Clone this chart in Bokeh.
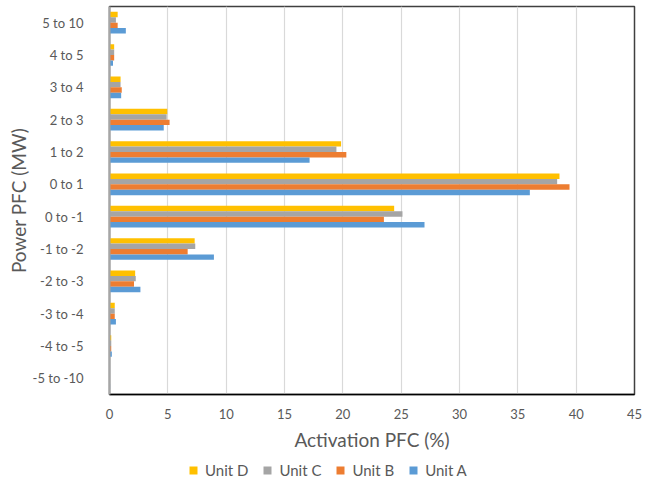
from bokeh.plotting import figure
from bokeh.models import (ColumnDataSource, FactorRange, Range1d, SingleIntervalTicker,
                          Legend, LegendItem)
from bokeh.layouts import column
from bokeh.transform import dodge
from bokeh.embed import file_html
from bokeh.resources import INLINE

# Power bands, listed from top to bottom as they appear on the chart
categories = ["5 to 10", "4 to 5", "3 to 4", "2 to 3", "1 to 2", "0 to 1",
              "0 to -1", "-1 to -2", "-2 to -3", "-3 to -4", "-4 to -5", "-5 to -10"]

# Activation share (%) per unit and band
unit_a = [1.4, 0.3, 1.0, 4.65, 17.15, 36.03, 27.0, 8.95, 2.65, 0.55, 0.2, 0.05]
unit_b = [0.7, 0.4, 1.05, 5.15, 20.3, 39.43, 23.52, 6.7, 2.1, 0.45, 0.15, 0.03]
unit_c = [0.55, 0.4, 0.95, 4.9, 19.45, 38.37, 25.11, 7.35, 2.25, 0.45, 0.15, 0.03]
unit_d = [0.7, 0.4, 0.95, 4.95, 19.85, 38.57, 24.4, 7.3, 2.2, 0.45, 0.15, 0.03]

x_ticks_step = 5
x_max = 45

FONT = "Lato"
TEXT = "#595959"

source = ColumnDataSource(dict(cat=categories, a=unit_a, b=unit_b, c=unit_c, d=unit_d))

p = figure(width=654, height=453, output_backend="svg", toolbar_location=None,
           y_range=FactorRange(*reversed(categories)), x_range=Range1d(0, x_max))
p.min_border_left = 109
p.min_border_right = 20
p.min_border_top = 6
p.min_border_bottom = 59
p.background_fill_color = "white"
p.border_fill_color = "white"
p.outline_line_color = "#404040"
p.outline_line_width = 1.5

bar_h = 0.167
series = [("d", "Unit D", "#FFC000", 1.5 * bar_h),
          ("c", "Unit C", "#A5A5A5", 0.5 * bar_h),
          ("b", "Unit B", "#ED7D31", -0.5 * bar_h),
          ("a", "Unit A", "#5B9BD5", -1.5 * bar_h)]

for col, name, color, off in series:
    p.hbar(y=dodge("cat", off, range=p.y_range), right=col, left=0, height=bar_h,
           source=source, fill_color=color, line_color=None)

# grid: vertical lines only
p.ygrid.grid_line_color = None
p.xgrid.grid_line_color = "#D9D9D9"
p.xgrid.grid_line_width = 1.2

# x axis
p.xaxis.ticker = SingleIntervalTicker(interval=x_ticks_step)
p.xaxis.minor_tick_line_color = None
p.xaxis.major_tick_line_color = None
p.xaxis.major_tick_out = 0
p.xaxis.major_tick_in = 0
p.xaxis.axis_line_color = "#000000"
p.xaxis.axis_line_width = 1.5
p.xaxis.major_label_standoff = 10
p.xaxis.major_label_text_font = FONT
p.xaxis.major_label_text_font_size = "13px"
p.xaxis.major_label_text_color = TEXT
p.xaxis.axis_label = "Activation PFC (%)"
p.xaxis.axis_label_text_font = FONT
p.xaxis.axis_label_text_font_size = "19px"
p.xaxis.axis_label_text_font_style = "normal"
p.xaxis.axis_label_text_color = TEXT
p.xaxis.axis_label_standoff = 6

# y axis
p.yaxis.major_tick_line_color = None
p.yaxis.major_tick_out = 0
p.yaxis.major_tick_in = 0
p.yaxis.axis_line_color = "#A6A6A6"
p.yaxis.axis_line_width = 2
p.yaxis.major_label_standoff = 26
p.yaxis.major_label_text_font = FONT
p.yaxis.major_label_text_font_size = "13px"
p.yaxis.major_label_text_color = TEXT
p.yaxis.axis_label = "Power PFC (MW)"
p.yaxis.axis_label_text_font = FONT
p.yaxis.axis_label_text_font_size = "19px"
p.yaxis.axis_label_text_font_style = "normal"
p.yaxis.axis_label_text_color = TEXT
p.yaxis.axis_label_standoff = 0

# legend strip underneath the chart
leg = figure(width=654, height=27, output_backend="svg", toolbar_location=None,
             x_axis_type=None, y_axis_type=None, x_range=Range1d(0, 1), y_range=Range1d(0, 1),
             min_border=0)
leg.outline_line_color = None
leg.background_fill_color = "white"
leg.border_fill_color = "white"
leg.xgrid.visible = False
leg.ygrid.visible = False

# swatch renderers sit outside the strip's visible range; only their legend glyphs show
items = []
for col, name, color, off in series:
    r = leg.scatter(x=[5], y=[5], marker="square", size=8, fill_color=color, line_color=None)
    items.append(LegendItem(label=name, renderers=[r]))

legend = Legend(items=items, orientation="horizontal", location=(74, 0),
                glyph_width=20, glyph_height=20, label_standoff=2, spacing=9,
                padding=0, margin=0, border_line_color=None,
                background_fill_alpha=0,
                label_text_font=FONT, label_text_font_size="15px",
                label_text_color=TEXT)
leg.add_layout(legend, "center")

page = column(p, leg, spacing=0)
open("out.html", "w").write(file_html(page, INLINE))
